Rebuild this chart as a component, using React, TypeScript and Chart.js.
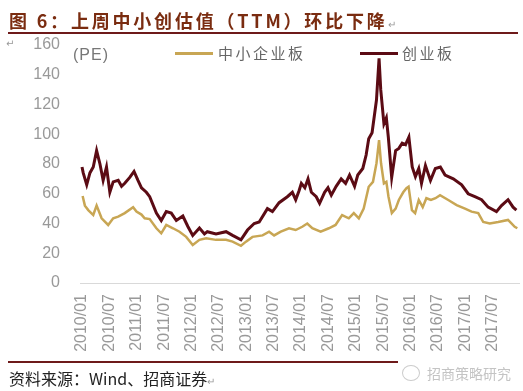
import React, { useEffect, useRef } from "react";
import { Chart, registerables } from "chart.js";

Chart.register(...registerables);

const xTickLabels = [
  "2010/01", "2010/07", "2011/01", "2011/07", "2012/01", "2012/07", "2013/01", "2013/07",
  "2014/01", "2014/07", "2015/01", "2015/07", "2016/01", "2016/07", "2017/01", "2017/07",
];
const yTicks = [0, 20, 40, 60, 80, 100, 120, 140, 160];

const seriesNames = ["中小企业板", "创业板"];

const chinextDates = [
  "2010-01-01", "2010-01-09", "2010-02-02", "2010-02-23", "2010-03-15", "2010-04-07", "2010-04-29",
  "2010-05-20", "2010-06-12", "2010-07-04", "2010-07-26", "2010-08-29", "2010-09-21", "2010-10-12",
  "2010-11-15", "2010-12-13", "2011-01-09", "2011-02-02", "2011-03-04", "2011-03-26", "2011-05-10",
  "2011-06-12", "2011-07-15", "2011-08-18", "2011-09-21", "2011-11-04", "2011-12-07", "2012-01-09",
  "2012-02-23", "2012-03-26", "2012-04-15", "2012-06-12", "2012-08-18", "2012-10-01", "2012-11-26",
  "2013-01-09", "2013-02-23", "2013-03-26", "2013-05-20", "2013-06-23", "2013-08-07", "2013-10-01",
  "2013-11-04", "2013-11-26", "2013-12-18", "2014-01-03", "2014-01-26", "2014-02-17", "2014-03-09",
  "2014-04-11", "2014-05-03", "2014-06-06", "2014-06-28", "2014-07-20", "2014-08-22", "2014-09-25",
  "2014-10-24", "2014-11-20", "2014-12-23", "2015-01-14", "2015-02-17", "2015-03-09", "2015-03-26",
  "2015-04-18", "2015-05-17", "2015-06-04", "2015-06-15", "2015-07-06", "2015-07-22", "2015-08-05",
  "2015-08-27", "2015-09-23", "2015-10-14", "2015-11-06", "2015-11-28", "2015-12-20", "2016-01-12",
  "2016-02-03", "2016-02-25", "2016-03-13", "2016-04-09", "2016-05-12", "2016-06-14", "2016-07-17",
  "2016-08-18", "2016-10-12", "2016-12-07", "2017-01-20", "2017-03-04", "2017-04-18", "2017-06-01",
  "2017-07-26", "2017-08-29", "2017-10-12", "2017-11-15", "2017-12-07",
];
const chinextValues = [
  78, 74, 66, 74, 78, 89, 80,
  69, 78, 61, 68, 69, 65, 67,
  71, 75, 69, 64, 61, 58, 47,
  42, 48, 47, 42, 45, 38, 32,
  37, 33, 34.5, 33, 34.5, 32, 29,
  35.6, 40, 41, 50, 48, 54, 58,
  61, 56, 62, 67, 64, 70, 61,
  58, 53.6, 61, 64, 59, 65, 70,
  67, 72.6, 65, 72.6, 77, 86, 97,
  101, 123, 151, 130, 107, 111, 98,
  71, 89, 90.5, 94, 93, 98, 78,
  71.5, 77, 67, 79, 69, 77, 78,
  72.6, 70, 66, 60, 58, 56, 51,
  48, 52, 56, 51, 49,
];

const smeDates = [
  "2010-01-05", "2010-01-20", "2010-02-12", "2010-03-15", "2010-04-07", "2010-05-10", "2010-06-23",
  "2010-07-26", "2010-08-29", "2010-10-12", "2010-12-07", "2010-12-29", "2011-02-02", "2011-02-23",
  "2011-03-26", "2011-05-10", "2011-06-12", "2011-07-15", "2011-08-29", "2011-10-12", "2011-11-26",
  "2012-01-09", "2012-02-23", "2012-04-07", "2012-06-12", "2012-08-18", "2012-10-01", "2012-11-26",
  "2012-12-29", "2013-02-12", "2013-04-18", "2013-06-01", "2013-07-04", "2013-08-18", "2013-10-12",
  "2013-11-26", "2014-01-09", "2014-02-12", "2014-03-15", "2014-05-10", "2014-07-04", "2014-08-18",
  "2014-10-01", "2014-11-15", "2014-12-18", "2015-01-21", "2015-02-23", "2015-03-26", "2015-04-24",
  "2015-05-17", "2015-06-04", "2015-06-17", "2015-07-06", "2015-07-22", "2015-08-06", "2015-08-28",
  "2015-09-23", "2015-10-14", "2015-11-13", "2015-12-04", "2015-12-18", "2016-01-10", "2016-02-01",
  "2016-02-25", "2016-03-21", "2016-04-15", "2016-05-15", "2016-06-15", "2016-07-15", "2016-09-09",
  "2016-11-04", "2016-12-29", "2017-02-12", "2017-03-26", "2017-04-29", "2017-06-12", "2017-08-07",
  "2017-10-12", "2017-11-26", "2017-12-13",
];
const smeValues = [
  58.5, 52, 49, 45.7, 52, 43.5, 39,
  43.5, 44.6, 47, 51, 48, 46, 43.5,
  43, 36.8, 33.4, 39, 36.8, 34.5, 31,
  25.5, 29, 30, 29, 29, 27.8, 25,
  27.8, 31, 32, 34.5, 32, 34.5, 36.8,
  35.6, 37.8, 40, 36.8, 34.5, 36.8, 39,
  45.7, 43.5, 47, 43.5, 50, 64.7, 68,
  80.5, 96, 80.5, 67, 68, 58, 47,
  50, 55.8, 61, 63.7, 64.7, 49, 47,
  55.8, 51, 57, 55.8, 57, 59, 55.8,
  52.4, 50, 48, 47, 41, 40, 41,
  42.4, 37.8, 36.8,
];

const toMonth = (s: string) => {
  const [y, m, d] = s.split("-").map(Number);
  return (y - 2010) * 12 + (m - 1) + (d - 1) / 30;
};

const abs = (o: React.CSSProperties): React.CSSProperties => ({ position: "absolute", margin: 0, ...o });

export default function App() {
  const ref = useRef<HTMLCanvasElement | null>(null);
  useEffect(() => {
    if (!ref.current) return;
    const chart = new Chart(ref.current, {
      type: "line",
      data: {
        datasets: [
          {
            label: seriesNames[0],
            data: smeDates.map((d, i) => ({ x: toMonth(d), y: smeValues[i] })),
            borderColor: "#c8a654",
            borderWidth: 2.5,
            pointRadius: 0,
            tension: 0,
          },
          {
            label: seriesNames[1],
            data: chinextDates.map((d, i) => ({ x: toMonth(d), y: chinextValues[i] })),
            borderColor: "#5b0b14",
            borderWidth: 3,
            pointRadius: 0,
            tension: 0,
          },
        ],
      },
      options: {
        responsive: false,
        animation: false,
        layout: { padding: { top: 45, bottom: 33, left: 0, right: 2 } },
        plugins: { legend: { display: false }, tooltip: { enabled: false } },
        scales: {
          x: {
            type: "linear",
            min: -0.44,
            max: 95.8,
            grid: { display: false, drawTicks: false },
            border: { display: true, color: "#d9d9d9", width: 1 },
            afterBuildTicks: (scale: any) => {
              scale.ticks = xTickLabels.map((_, i) => ({ value: i * 6 }));
            },
            afterFit: (scale: any) => {
              scale.height = 75;
            },
            ticks: {
              autoSkip: false,
              minRotation: 90,
              maxRotation: 90,
              padding: 11,
              color: "#999999",
              font: { family: "Liberation Sans", size: 16 },
              callback: (v: any) => xTickLabels[Math.round(Number(v) / 6)] ?? "",
            },
          },
          y: {
            min: 0,
            max: 160,
            grid: { display: false, drawTicks: false },
            border: { display: false },
            afterBuildTicks: (scale: any) => {
              scale.ticks = yTicks.map((v) => ({ value: v }));
            },
            afterFit: (scale: any) => {
              scale.width = 80;
            },
            ticks: {
              padding: 20,
              color: "#999999",
              font: { family: "Liberation Sans", size: 16 },
            },
          },
        },
      },
    });
    return () => chart.destroy();
  }, []);

  const cjk = '"Noto Sans CJK SC", sans-serif';
  return (
    <div style={{ position: "fixed", left: 0, top: 0, width: 523, height: 391, background: "#fff", overflow: "hidden" }}>
      <canvas ref={ref} width={523} height={391} style={abs({ left: 0, top: 0, width: 523, height: 391 })} />
      <div style={abs({ left: 9, top: 7, fontFamily: cjk, fontWeight: 700, fontSize: 18, letterSpacing: 2.8, color: "#7a2c10", whiteSpace: "nowrap", lineHeight: "26px" })}>
        图 6：上周中小创估值（TTM）环比下降<span style={{ fontSize: 10, fontWeight: 400, color: "#999", letterSpacing: 0 }}>↵</span>
      </div>
      <div style={abs({ left: 8, top: 32, width: 510, height: 2, background: "#6e1a1a" })} />
      <div style={abs({ left: 6, top: 38, fontSize: 10, color: "#999", fontFamily: "DejaVu Sans" })}>↵</div>
      <div style={abs({ left: 73, top: 46, fontFamily: "Liberation Sans", fontSize: 16, color: "#777", letterSpacing: 1, whiteSpace: "nowrap" })}>(PE)</div>
      <div style={abs({ left: 175, top: 52, width: 38, height: 3, background: "#c8a654" })} />
      <div style={abs({ left: 218, top: 42, fontFamily: cjk, fontSize: 15, color: "#666", letterSpacing: 2.5, whiteSpace: "nowrap", lineHeight: "22px" })}>中小企业板</div>
      <div style={abs({ left: 360, top: 52, width: 38, height: 3, background: "#5b0b14" })} />
      <div style={abs({ left: 402, top: 42, fontFamily: cjk, fontSize: 15, color: "#666", letterSpacing: 2.5, whiteSpace: "nowrap", lineHeight: "22px" })}>创业板</div>
      <div style={abs({ left: 8, top: 361, width: 390, height: 2, background: "#6e1a1a" })} />
      <div style={abs({ left: 9, top: 367, fontFamily: cjk, fontSize: 16, color: "#222", whiteSpace: "nowrap", lineHeight: "22px" })}>
        资料来源：Wind、招商证券<span style={{ fontSize: 10, color: "#999" }}>↵</span>
      </div>
      <div style={abs({ left: 402, top: 365, width: 18, height: 16, borderRadius: "50%", border: "1.5px solid #ccc", boxSizing: "border-box" })} />
      <div style={abs({ left: 427, top: 362, fontFamily: cjk, fontSize: 14, color: "#c4c4c4", whiteSpace: "nowrap", lineHeight: "22px" })}>招商策略研究</div>
    </div>
  );
}
